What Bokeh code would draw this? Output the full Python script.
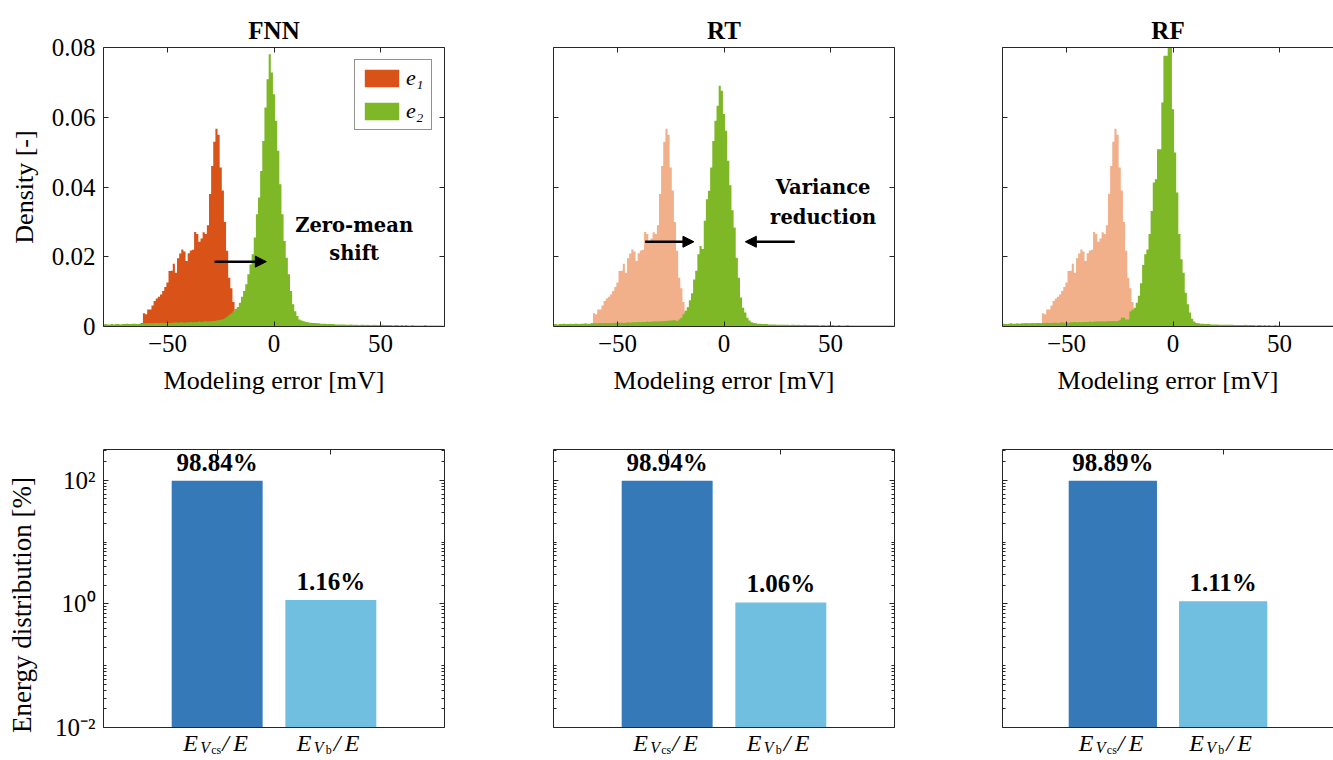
import numpy as np
from bokeh.plotting import figure
from bokeh.layouts import column, row
from bokeh.models import (Range1d, FixedTicker, Label, Legend, LegendItem, Arrow, NormalHead,
                          LinearAxis, LogAxis, CustomJSTickFormatter, Span)
from bokeh.embed import file_html
from bokeh.resources import INLINE

# ---------------- data ----------------
MODELS = ["FNN", "RT", "RF"]
BIN_WIDTH = 1.0            # mV
E1_FIRST_CENTER = -62      # centre of first e1 bin [mV]
E2_FIRST_CENTER = -80      # centre of first e2 bin [mV]

# e1 density (same residual in all three panels)
E1 = [0.0010, 0.0038, 0.0035, 0.0049, 0.0049, 0.0060, 0.0073, 0.0080, 0.0085, 0.0092,
      0.0102, 0.0113, 0.0126, 0.0159, 0.0160, 0.0180, 0.0154, 0.0196, 0.0209, 0.0221,
      0.0215, 0.0188, 0.0210, 0.0218, 0.0220, 0.0271, 0.0265, 0.0243, 0.0252, 0.0270,
      0.0265, 0.0290, 0.0380, 0.0460, 0.0530, 0.0567, 0.0550, 0.0456, 0.0390, 0.0300,
      0.0217, 0.0140, 0.0110, 0.0070, 0.0040, 0.0020, 0.0010]

E2_FNN = [0.0006, 0.0007, 0.0006, 0.0006, 0.0007, 0.0006, 0.0007, 0.0007, 0.0006, 0.0007,
          0.0007, 0.0008, 0.0007, 0.0007, 0.0008, 0.0008, 0.0007, 0.0008, 0.0008, 0.0009,
          0.0009, 0.0009, 0.0010, 0.0009, 0.0010, 0.0010, 0.0009, 0.0010, 0.0011, 0.0010,
          0.0011, 0.0010, 0.0011, 0.0011, 0.0012, 0.0011, 0.0012, 0.0012, 0.0011, 0.0012,
          0.0012, 0.0013, 0.0012, 0.0013, 0.0013, 0.0014, 0.0013, 0.0014, 0.0015, 0.0014,
          0.0015, 0.0016, 0.0016, 0.0017, 0.0018, 0.0019, 0.0021, 0.0024,
          0.0028, 0.0033, 0.0038, 0.0044, 0.0050, 0.0056, 0.0068, 0.0085,
          0.0102, 0.0121, 0.0150, 0.0178, 0.0207, 0.0255, 0.0322, 0.0370, 0.0446, 0.0532,
          0.0628, 0.0709, 0.0781, 0.0728,
          0.0666, 0.0590, 0.0504, 0.0408, 0.0322, 0.0245, 0.0197, 0.0150, 0.0102, 0.0064,
          0.0044, 0.0030, 0.0020,
          0.0017, 0.0015, 0.0013, 0.0012, 0.0011, 0.0010, 0.0010, 0.0009, 0.0009, 0.0008,
          0.0008, 0.0008, 0.0007, 0.0007, 0.0007, 0.0007, 0.0006, 0.0006, 0.0006, 0.0006,
          0.0006, 0.0005, 0.0005, 0.0006, 0.0005, 0.0005, 0.0005, 0.0004, 0.0005, 0.0005,
          0.0004, 0.0005, 0.0004, 0.0004, 0.0005, 0.0004, 0.0004, 0.0004, 0.0005, 0.0004,
          0.0004, 0.0004, 0.0004, 0.0003, 0.0004, 0.0004, 0.0003, 0.0004, 0.0003, 0.0004,
          0.0003, 0.0003, 0.0004, 0.0003, 0.0003, 0.0003, 0.0003, 0.0003, 0.0004, 0.0003,
          0.0003, 0.0003, 0.0003, 0.0003, 0.0003, 0.0003, 0.0003]

E2_RT = [0.0007, 0.0007, 0.0006, 0.0007, 0.0007, 0.0008, 0.0007, 0.0007, 0.0008, 0.0007,
         0.0008, 0.0008, 0.0007, 0.0008, 0.0008, 0.0009, 0.0008, 0.0008, 0.0009, 0.0009,
         0.0009, 0.0009, 0.0010, 0.0009, 0.0010, 0.0009, 0.0010, 0.0010, 0.0010, 0.0011,
         0.0010, 0.0011, 0.0011, 0.0010, 0.0011, 0.0012, 0.0011, 0.0012, 0.0012, 0.0012,
         0.0013, 0.0012, 0.0013, 0.0013, 0.0014, 0.0013, 0.0014, 0.0014, 0.0015, 0.0014,
         0.0015, 0.0015, 0.0016, 0.0016, 0.0017, 0.0017, 0.0018, 0.0018,
         0.0016, 0.0020, 0.0025, 0.0035, 0.0045, 0.0055, 0.0075, 0.0095,
         0.0135, 0.0160, 0.0207, 0.0231, 0.0222, 0.0303, 0.0365, 0.0389, 0.0456, 0.0532,
         0.0590, 0.0633, 0.0690, 0.0676,
         0.0609, 0.0561, 0.0475, 0.0405, 0.0333, 0.0284, 0.0197, 0.0140, 0.0083, 0.0054,
         0.0040, 0.0025, 0.0017,
         0.0012, 0.0010, 0.0009, 0.0008, 0.0008, 0.0007, 0.0007, 0.0007, 0.0006, 0.0006,
         0.0006, 0.0006, 0.0005, 0.0005, 0.0005, 0.0005, 0.0005, 0.0005, 0.0004, 0.0005,
         0.0005, 0.0004, 0.0005, 0.0004, 0.0004, 0.0005, 0.0004, 0.0004, 0.0004, 0.0004,
         0.0004, 0.0004, 0.0003, 0.0004, 0.0004, 0.0003, 0.0004, 0.0003, 0.0004, 0.0003,
         0.0003, 0.0004, 0.0003, 0.0003, 0.0003, 0.0004, 0.0003, 0.0003, 0.0003, 0.0003,
         0.0003, 0.0003, 0.0003, 0.0003, 0.0003, 0.0003, 0.0003, 0.0003, 0.0003, 0.0003,
         0.0003, 0.0003, 0.0003, 0.0003, 0.0003, 0.0003, 0.0003]

E2_RF = [0.0008, 0.0008, 0.0007, 0.0008, 0.0009, 0.0008, 0.0008, 0.0009, 0.0008, 0.0009,
         0.0009, 0.0010, 0.0009, 0.0009, 0.0010, 0.0009, 0.0010, 0.0010, 0.0009, 0.0010,
         0.0010, 0.0011, 0.0010, 0.0010, 0.0011, 0.0011, 0.0010, 0.0011, 0.0012, 0.0011,
         0.0012, 0.0011, 0.0012, 0.0012, 0.0013, 0.0012, 0.0013, 0.0012, 0.0013, 0.0013,
         0.0013, 0.0014, 0.0013, 0.0014, 0.0014, 0.0015, 0.0014, 0.0015, 0.0014, 0.0015,
         0.0016, 0.0015, 0.0016, 0.0015, 0.0016, 0.0018,
         0.0025, 0.0025, 0.0020, 0.0020, 0.0043, 0.0048, 0.0054, 0.0068,
         0.0088, 0.0124, 0.0176, 0.0207, 0.0221, 0.0265, 0.0331, 0.0413, 0.0422, 0.0508,
         0.0508, 0.0642, 0.0776, 0.0776, 0.0830, 0.0830,
         0.0623, 0.0499, 0.0384, 0.0265, 0.0193, 0.0154, 0.0097, 0.0064, 0.0040, 0.0022,
         0.0014, 0.0010,
         0.0009, 0.0008, 0.0008, 0.0007, 0.0007, 0.0007, 0.0006, 0.0006, 0.0006, 0.0006,
         0.0005, 0.0005, 0.0005, 0.0005, 0.0005, 0.0005, 0.0005, 0.0004, 0.0004, 0.0004,
         0.0004,
         0.0004, 0.0005, 0.0004, 0.0004, 0.0004, 0.0004, 0.0003, 0.0004, 0.0004, 0.0003,
         0.0004, 0.0003, 0.0004, 0.0003, 0.0003, 0.0004, 0.0003, 0.0003, 0.0003, 0.0003,
         0.0003, 0.0003, 0.0003, 0.0003, 0.0003, 0.0003, 0.0003, 0.0003, 0.0003, 0.0003,
         0.0003, 0.0003, 0.0003, 0.0003, 0.0003, 0.0003, 0.0003, 0.0003, 0.0003, 0.0003,
         0.0003, 0.0003, 0.0003, 0.0003, 0.0003, 0.0003, 0.0003]

E2_ALL = [E2_FNN, E2_RT, E2_RF]

ENERGY_CATS = [1, 2]                 # bar positions: E_Vcs/E, E_Vb/E
ENERGY_FNN = [98.84, 1.16]
ENERGY_RT = [98.94, 1.06]
ENERGY_RF = [98.89, 1.11]
ENERGY_ALL = [ENERGY_FNN, ENERGY_RT, ENERGY_RF]
ENERGY_TEXT_FNN = ["98.84%", "1.16%"]
ENERGY_TEXT_RT = ["98.94%", "1.06%"]
ENERGY_TEXT_RF = ["98.89%", "1.11%"]
ENERGY_TEXT_ALL = [ENERGY_TEXT_FNN, ENERGY_TEXT_RT, ENERGY_TEXT_RF]

X_TICKS = [-50, 0, 50]
Y_TICKS = [0, 0.02, 0.04, 0.06, 0.08]
LOG_TICKS = [0.01, 1, 100]
LOG_TOP = 316.23

# ---------------- style ----------------
ORANGE = "#D95319"
SALMON = "#F1B08A"
GREEN = "#7EB826"
BLUE_D = "#3679B9"
BLUE_L = "#71BFE0"
AX = "#262626"
TXT = "#000000"
SERIF = "Liberation Serif"
SLAB = "DejaVu Serif"

widths = [450, 450, 433]
bl = [103, 103, 102]
br = [6, 6, 0]
xend = [80, 80, 75.3]

hide_fmt = CustomJSTickFormatter(code="return '';")
x_fmt = CustomJSTickFormatter(code="return tick < 0 ? '\u2212' + Math.abs(tick) : '' + tick;")
y_fmt = CustomJSTickFormatter(code="return tick == 0 ? '0' : tick.toFixed(2);")
log_fmt = CustomJSTickFormatter(code="""
const e = Math.round(Math.log10(tick));
const m = {'-2': '10\u207b\u00b2', '0': '10\u2070', '2': '10\u00b2'};
return m[String(e)] || '';
""")


def step_outline(first_center, heights):
    h = np.asarray(heights, dtype=float)
    edges = first_center - BIN_WIDTH / 2 + BIN_WIDTH * np.arange(len(h) + 1)
    xs = np.repeat(edges, 2)
    ys = np.concatenate([[0.0], np.repeat(h, 2), [0.0]])
    return xs, ys


def style_axis(ax, show_labels=True):
    ax.axis_line_color = AX
    ax.axis_line_width = 1
    ax.major_tick_line_color = AX
    ax.minor_tick_line_color = AX
    ax.major_tick_in = 5
    ax.major_tick_out = 0
    ax.minor_tick_in = 3
    ax.minor_tick_out = 0
    ax.major_label_text_font = SERIF
    ax.major_label_text_color = TXT
    ax.major_label_text_font_size = "25px" if show_labels else "1px"
    ax.major_label_standoff = 8 if show_labels else 0
    ax.axis_label_text_font = SERIF
    ax.axis_label_text_font_style = "normal"
    ax.axis_label_text_font_size = "26px"
    ax.axis_label_text_color = TXT


# bar panel geometry: frame runs to the bottom of the page, the value axis
# ends at 10^-2 (33 px above the page bottom), with ~61.8 px per decade
PX_PER_DECADE = 278 / 4.5
LOG_BOTTOM = 10 ** (-2 - 33 / PX_PER_DECADE)
LABEL_Y = 10 ** (-2 - 25 / PX_PER_DECADE)

top_figs = []
bot_figs = []
for i, name in enumerate(MODELS):
    p = figure(width=widths[i], height=408, output_backend="svg", toolbar_location=None,
               x_range=Range1d(-80, xend[i]), y_range=Range1d(0, 0.08),
               min_border_left=bl[i], min_border_right=br[i], min_border_top=47,
               min_border_bottom=82, title=name)
    p.outline_line_color = None
    p.grid.visible = False
    p.background_fill_color = "white"
    p.title.text_font = SERIF
    p.title.text_font_style = "bold"
    p.title.text_font_size = "25px"
    p.title.text_color = TXT
    p.title.align = "center"
    p.title.standoff = 8

    x1, y1 = step_outline(E1_FIRST_CENTER, E1)
    r1 = p.patch(x1, y1, fill_color=ORANGE if i == 0 else SALMON, line_color=None)
    x2, y2 = step_outline(E2_FIRST_CENTER, E2_ALL[i])
    r2 = p.patch(x2, y2, fill_color=GREEN, line_color=None)

    p.xaxis.ticker = FixedTicker(ticks=X_TICKS, minor_ticks=[])
    p.xaxis.formatter = x_fmt
    p.xaxis.axis_label = "Modeling error [mV]"
    style_axis(p.xaxis[0])
    p.xaxis.axis_label_standoff = 11
    p.yaxis.ticker = FixedTicker(ticks=Y_TICKS, minor_ticks=[])
    if i == 0:
        p.yaxis.formatter = y_fmt
        p.yaxis.axis_label = "Density [-]"
        style_axis(p.yaxis[0])
        p.yaxis.axis_label_standoff = 10
    else:
        p.yaxis.formatter = hide_fmt
        style_axis(p.yaxis[0], False)

    ax_top = LinearAxis(ticker=FixedTicker(ticks=X_TICKS, minor_ticks=[]), formatter=hide_fmt)
    style_axis(ax_top, False)
    p.add_layout(ax_top, "above")
    if i < 2:
        ax_r = LinearAxis(ticker=FixedTicker(ticks=Y_TICKS, minor_ticks=[]), formatter=hide_fmt)
        style_axis(ax_r, False)
        p.add_layout(ax_r, "right")

    if i == 0:
        leg = Legend(items=[LegendItem(label="e\u2081", renderers=[r1]),
                            LegendItem(label="e\u2082", renderers=[r2])],
                     location="top_right")
        leg.margin = 12
        leg.padding = 5
        leg.spacing = 7
        leg.glyph_width = 43
        leg.glyph_height = 22
        leg.label_height = 22
        leg.label_standoff = 3
        leg.label_text_font = SERIF
        leg.label_text_font_style = "italic"
        leg.label_text_font_size = "22px"
        leg.label_text_color = TXT
        leg.border_line_color = AX
        leg.border_line_width = 1
        leg.background_fill_alpha = 1
        p.add_layout(leg)
        p.add_layout(Arrow(end=NormalHead(size=11, fill_color="black", line_color="black"),
                           x_start=-27.9, y_start=0.0186, x_end=-3.6, y_end=0.0186,
                           line_width=2.5, line_color="black"))
        for ty, tt in [(0.029, "Zero-mean"), (0.021, "shift")]:
            p.add_layout(Label(x=37.6, y=ty, text=tt, text_font=SLAB, text_color=TXT,
                               text_font_style="bold", text_font_size="19.5px",
                               text_align="center", text_baseline="middle"))
    if i == 1:
        p.add_layout(Arrow(end=NormalHead(size=11, fill_color="black", line_color="black"),
                           x_start=-37, y_start=0.0243, x_end=-14.1, y_end=0.0243,
                           line_width=2.5, line_color="black"))
        p.add_layout(Arrow(end=NormalHead(size=11, fill_color="black", line_color="black"),
                           x_start=33.2, y_start=0.0243, x_end=10.0, y_end=0.0243,
                           line_width=2.5, line_color="black"))
        for ty, tt in [(0.0398, "Variance"), (0.0312, "reduction")]:
            p.add_layout(Label(x=46.5, y=ty, text=tt, text_font=SLAB, text_color=TXT,
                               text_font_style="bold", text_font_size="19.5px",
                               text_align="center", text_baseline="middle"))
    top_figs.append(p)

    # ---- energy bars ----
    b = figure(width=widths[i], height=352, output_backend="svg", toolbar_location=None,
               x_range=Range1d(0, 3), y_range=Range1d(LOG_BOTTOM, LOG_TOP), y_axis_type="log",
               min_border_left=bl[i], min_border_right=br[i], min_border_top=41,
               min_border_bottom=0)
    b.outline_line_color = None
    b.grid.visible = False
    b.xaxis.visible = False
    vals = ENERGY_ALL[i]
    b.vbar(x=ENERGY_CATS, width=0.8, bottom=LOG_TICKS[0], top=vals,
           fill_color=[BLUE_D, BLUE_L], line_color=None)
    b.add_layout(Span(location=LOG_TICKS[0], dimension="width", line_color=AX, line_width=1))
    for xc, v, t in zip(ENERGY_CATS, vals, ENERGY_TEXT_ALL[i]):
        b.add_layout(Label(x=xc, y=v, text=t, text_font=SERIF, text_font_style="bold",
                           text_font_size="25px", text_align="center", text_color=TXT,
                           text_baseline="bottom", y_offset=5))
    minor = [k * 10.0 ** d for d in range(-2, 3) for k in range(1, 10) if k * 10.0 ** d < LOG_TOP]
    b.yaxis.ticker = FixedTicker(ticks=LOG_TICKS, minor_ticks=minor)
    b.yaxis.bounds = (LOG_TICKS[0], LOG_TOP)
    if i == 0:
        b.yaxis.formatter = log_fmt
        b.yaxis.axis_label = "Energy distribution [%]"
        style_axis(b.yaxis[0])
        b.yaxis.axis_label_text_font_size = "27px"
        b.yaxis.axis_label_standoff = 15
    else:
        b.yaxis.formatter = hide_fmt
        style_axis(b.yaxis[0], False)
    bt = LinearAxis(ticker=FixedTicker(ticks=ENERGY_CATS, minor_ticks=[]), formatter=hide_fmt)
    style_axis(bt, False)
    b.add_layout(bt, "above")
    if i < 2:
        brax = LogAxis(ticker=FixedTicker(ticks=LOG_TICKS, minor_ticks=minor),
                       formatter=hide_fmt, bounds=(LOG_TICKS[0], LOG_TOP))
        style_axis(brax, False)
        b.add_layout(brax, "right")

    # composite math tick labels E_{V_cs}/E and E_{V_b}/E
    pieces = [
        (1, "E", -34, 10, "24px", "italic"), (1, "V", -17, 5, "16px", "italic"),
        (1, "cs", -6, 3, "12px", "normal"), (1, "/", 5, 10, "24px", "italic"),
        (1, "E", 16, 10, "24px", "italic"),
        (2, "E", -34, 10, "24px", "italic"), (2, "V", -17, 5, "16px", "italic"),
        (2, "b", -5, 3, "12px", "normal"), (2, "/", 3, 10, "24px", "italic"),
        (2, "E", 14, 10, "24px", "italic"),
    ]
    for xc, t, dx, dy, fs, st in pieces:
        b.add_layout(Label(x=xc, y=LABEL_Y, text=t, x_offset=dx, y_offset=dy,
                           text_font=SERIF, text_font_style=st, text_font_size=fs,
                           text_align="left", text_baseline="alphabetic",
                           text_color=TXT))
    bot_figs.append(b)

layout = column(row(*top_figs), row(*bot_figs))
open("out.html", "w").write(file_html(layout, INLINE))
